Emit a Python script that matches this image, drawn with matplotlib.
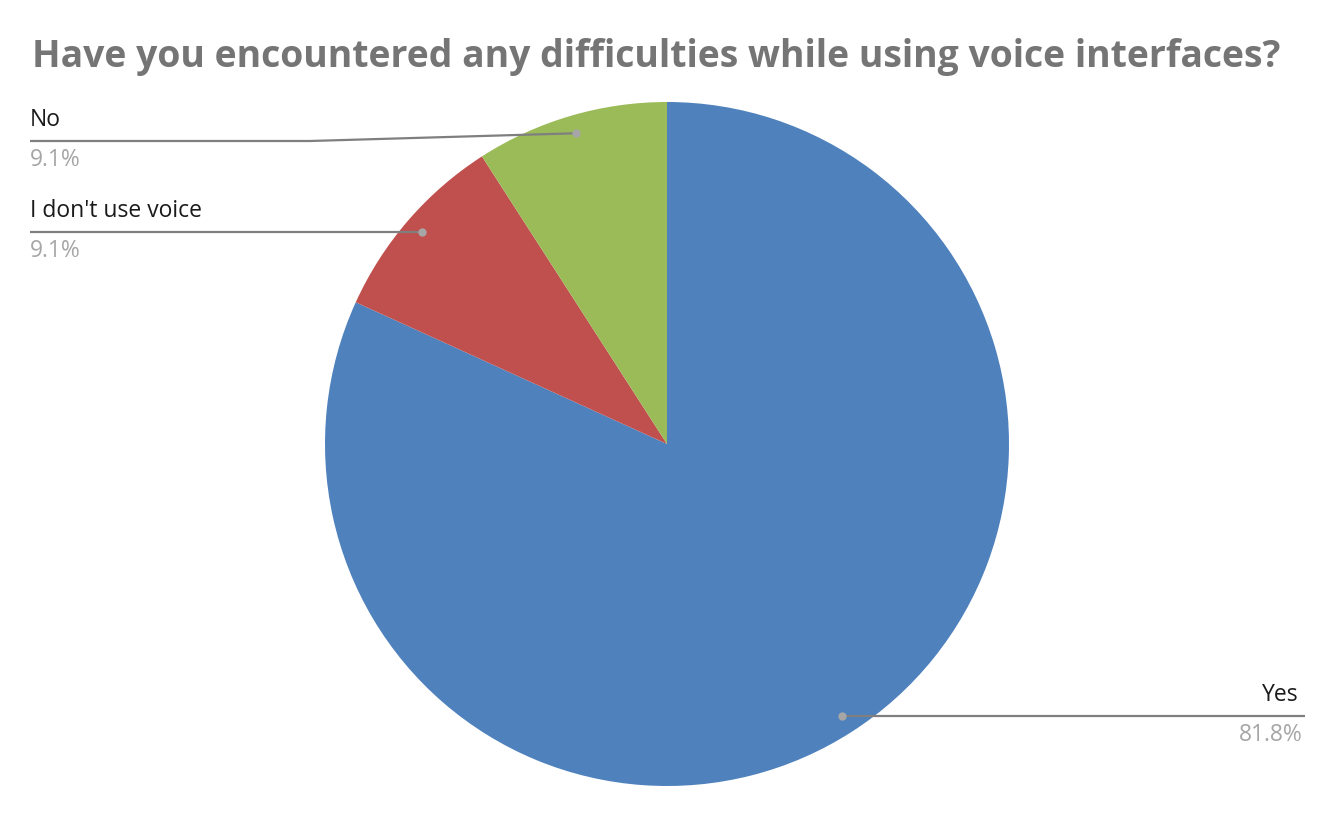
import numpy as np
import matplotlib.pyplot as plt

labels = ["Yes", "I don't use voice", "No"]
values = [81.8, 9.1, 9.1]
colors = ["#4F81BD", "#C0504D", "#9BBB59"]
title = "Have you encountered any difficulties while using voice interfaces?"

W, H = 1337, 829
fig = plt.figure(figsize=(W / 100, H / 100), dpi=100)
ax = fig.add_axes([0, 0, 1, 1])

cx, cy, r = 667, H - 445, 342
wedges, _ = ax.pie(values, colors=colors, startangle=90, counterclock=False,
                   center=(cx, cy), radius=r, frame=True,
                   wedgeprops=dict(linewidth=0))
ax.set_xlim(0, W)
ax.set_ylim(0, H)
ax.set_aspect("equal")
ax.axis("off")

font = "Open Sans"
fs = 16.5
line_c = "#7f7f7f"
dot_c = "#a6a6a6"
pct_c = "#a6a6a6"

# leader line layout: (end x, line y, text side)
layout = {
    "Yes": (1305, None, "right"),
    "I don't use voice": (30, H - 233, "left"),
    "No": (30, H - 142, "left"),
}

for w, lab, v in zip(wedges, labels, values):
    mid = np.deg2rad((w.theta1 + w.theta2) / 2)
    dx = cx + 0.947 * r * np.cos(mid)
    dy = cy + 0.947 * r * np.sin(mid)
    ex, ly, side = layout[lab]
    if ly is None:
        ly = dy
    if side == "left":
        knee = ex + 280 if abs(dy - ly) > 2 else dx
        ax.plot([dx, knee, ex], [dy, ly, ly], color=line_c, lw=1.6, zorder=3,
                solid_capstyle="butt")
        ax.text(ex, ly + 16, lab, ha="left", va="baseline", fontsize=fs,
                family=font, color="#1a1a1a")
        ax.text(ex, ly - 24, f"{v}%", ha="left", va="baseline", fontsize=fs,
                family=font, color=pct_c)
    else:
        ax.plot([dx, ex], [dy, ly], color=line_c, lw=1.6, zorder=3,
                solid_capstyle="butt")
        ax.text(ex - 6, ly + 16, lab, ha="right", va="baseline", fontsize=fs,
                family=font, color="#1a1a1a")
        ax.text(ex - 2, ly - 24, f"{v}%", ha="right", va="baseline", fontsize=fs,
                family=font, color=pct_c)
    ax.plot(dx, dy, "o", color=dot_c, ms=6, mec="none", zorder=4)

t = ax.text(32, H - 67, title, ha="left", va="baseline", fontsize=28,
            family=font, weight="bold", color="#757575")
fig.canvas.draw()
bb = t.get_window_extent()
t.set_fontsize(28 * 1251 / bb.width)

fig.savefig("out.png", dpi=100)
